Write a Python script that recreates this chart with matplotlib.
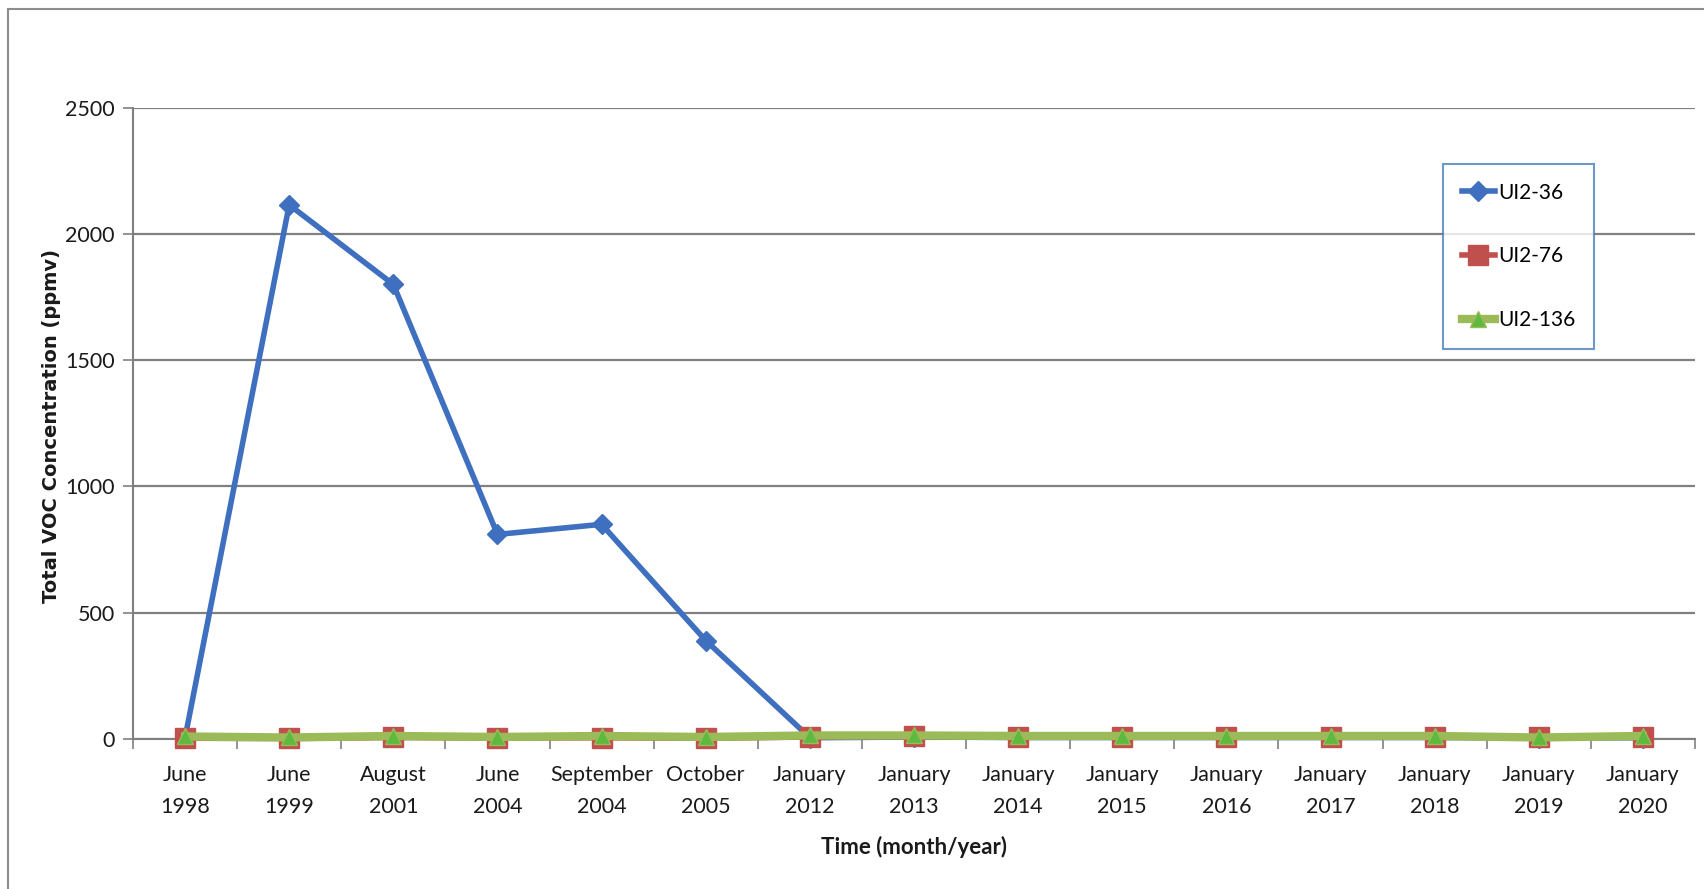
import matplotlib
matplotlib.use("Agg")
import matplotlib.pyplot as plt
from matplotlib.lines import Line2D
import numpy as np

# Sampling events
months = ["June", "June", "August", "June", "September", "October",
          "January", "January", "January", "January", "January",
          "January", "January", "January", "January"]
years = ["1998", "1999", "2001", "2004", "2004", "2005",
         "2012", "2013", "2014", "2015", "2016",
         "2017", "2018", "2019", "2020"]

# Total VOC concentration (ppmv)
ui2_36 = [5, 2115, 1800, 810, 850, 390, 5, 8, 6, 6, 6, 6, 6, 4, 5]
ui2_76 = [3, 2, 6, 4, 5, 3, 8, 10, 8, 8, 8, 8, 8, 6, 8]
ui2_136 = [10, 6, 12, 8, 12, 8, 14, 14, 12, 12, 12, 12, 12, 6, 12]

series_names = ["UI2-36", "UI2-76", "UI2-136"]
y_ticks = [0, 500, 1000, 1500, 2000, 2500]

blue = "#3F6FBF"
red = "#C0504D"
green = "#9BBB59"
grid_gray = "#808080"
text_col = "#1a1a1a"

W, H, DPI = 1704, 889, 100
fig = plt.figure(figsize=(W / DPI, H / DPI), dpi=DPI)
fig.patch.set_facecolor("white")

# outer chart frame (top and left edges)
fig.add_artist(Line2D([8 / W, 8 / W], [0, 1 - 9 / H], transform=fig.transFigure,
                      color="#8C8C8C", lw=1.5))
fig.add_artist(Line2D([8 / W, 1], [1 - 9 / H, 1 - 9 / H], transform=fig.transFigure,
                      color="#8C8C8C", lw=1.5))

left, right = 133 / W, 1695 / W
bottom, top = 1 - 739 / H, 1 - 107.6 / H
ax = fig.add_axes([left, bottom, right - left, top - bottom])

x = np.arange(len(months))
tick_font = dict(family="Lato", size=15.5, color=text_col)

ax.plot(x, ui2_36, color=blue, lw=4, marker="D", ms=10, mfc=blue, mec=blue,
        label=series_names[0], zorder=3, clip_on=False)
ax.plot(x, ui2_76, color=red, lw=4, marker="s", ms=14, mfc=red, mec=red,
        label=series_names[1], zorder=4, clip_on=False)
ax.plot(x, ui2_136, color=green, lw=6, marker="^", ms=11, mfc="#5DBA3F", mec=green,
        label=series_names[2], zorder=5, clip_on=False)

ax.set_xlim(-0.5, len(months) - 0.5)
ax.set_ylim(0, 2500)
ax.set_yticks(y_ticks)
ax.set_yticklabels([str(v) for v in y_ticks], **tick_font)
ax.yaxis.grid(True, color=grid_gray, lw=1.6)
ax.set_axisbelow(True)

ax.set_xticks(np.arange(-0.5, len(months), 1.0))
ax.set_xticklabels([])
ax.set_xticks(x, minor=True)
ax.set_xticklabels([f"{m}\n{y}" for m, y in zip(months, years)], minor=True,
                   linespacing=1.75, **tick_font)
ax.tick_params(axis="x", which="major", direction="out", length=7, color=grid_gray, width=1.2)
ax.tick_params(axis="x", which="minor", length=0, pad=19)
ax.tick_params(axis="y", direction="out", length=7, color=grid_gray, width=1.2, pad=6)

for s in ["top", "right"]:
    ax.spines[s].set_visible(False)
for s in ["left", "bottom"]:
    ax.spines[s].set_color(grid_gray)
    ax.spines[s].set_linewidth(1.5)

ax.set_ylabel("Total VOC Concentration (ppmv)", family="DejaVu Sans", fontweight="bold",
              fontsize=14, color=text_col)
ax.yaxis.set_label_coords(-0.046, 0.496)
ax.set_xlabel("Time (month/year)", family="Lato", fontweight="bold", fontsize=16,
              color=text_col)
ax.xaxis.set_label_coords(0.5, -0.153)

leg = ax.legend(loc="upper left",
                bbox_to_anchor=((1443 - 133) / (1695 - 133), (739 - 164) / (739 - 107.6)),
                prop=dict(family="Lato", size=15), frameon=True, fancybox=False,
                labelspacing=2.1, handlelength=1.6, handletextpad=0.15,
                borderpad=0.9, borderaxespad=0)
leg.get_frame().set_edgecolor("#4A7EBB")
leg.get_frame().set_linewidth(1.5)

fig.savefig("out.png", dpi=DPI, facecolor="white")
